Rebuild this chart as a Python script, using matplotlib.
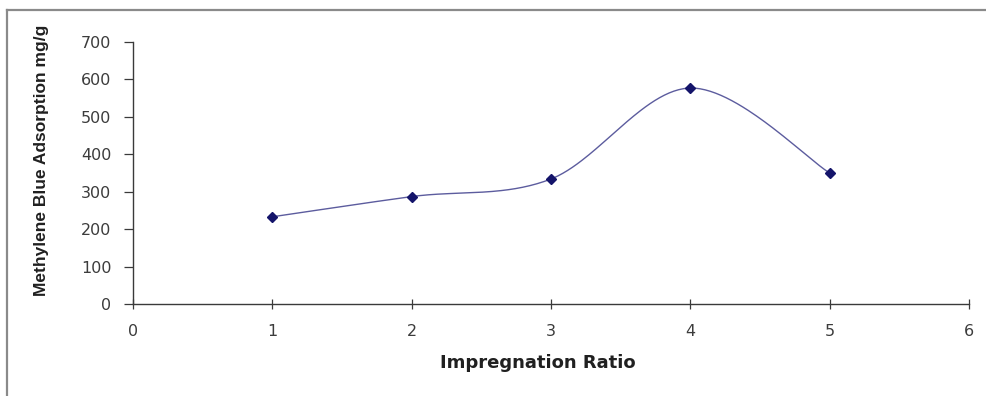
import numpy as np
import matplotlib
matplotlib.use("Agg")
import matplotlib.pyplot as plt
from matplotlib.lines import Line2D

# Data
ratios = [1, 2, 3, 4, 5]
adsorption = [233, 287, 334, 577, 350]
x_ticks = [0, 1, 2, 3, 4, 5, 6]
y_ticks = [0, 100, 200, 300, 400, 500, 600, 700]
x_label = "Impregnation Ratio"
y_label = "Methylene Blue Adsorption mg/g"


def smooth_curve(xs, ys, n=60):
    # Excel-style smoothed line (Catmull-Rom through the points)
    xs = np.asarray(xs, float)
    ys = np.asarray(ys, float)
    px = np.concatenate([[xs[0]], xs, [xs[-1]]])
    py = np.concatenate([[ys[0]], ys, [ys[-1]]])
    ox, oy = [], []
    for i in range(1, len(px) - 2):
        p0 = np.array([px[i - 1], py[i - 1]])
        p1 = np.array([px[i], py[i]])
        p2 = np.array([px[i + 1], py[i + 1]])
        p3 = np.array([px[i + 2], py[i + 2]])
        c1 = p1 + (p2 - p0) / 6.0
        c2 = p2 - (p3 - p1) / 6.0
        t = np.linspace(0, 1, n)[:, None]
        b = ((1 - t) ** 3) * p1 + 3 * ((1 - t) ** 2) * t * c1 + 3 * (1 - t) * t ** 2 * c2 + t ** 3 * p2
        ox.extend(b[:, 0])
        oy.extend(b[:, 1])
    return np.array(ox), np.array(oy)


fig = plt.figure(figsize=(9.87, 3.96), dpi=100)
ax = fig.add_axes([133 / 987, 1 - 304 / 396, (969 - 133) / 987, (304 - 42) / 396])

sx, sy = smooth_curve(ratios, adsorption)
ax.plot(sx, sy, color="#5c5c9e", lw=1.0, zorder=2)
ax.plot(ratios, adsorption, linestyle="none", marker="D", markersize=5,
        color="#14146a", zorder=3)

ax.set_xlim(0, 6)
ax.set_ylim(0, 700)
ax.set_xticks(x_ticks)
ax.set_yticks(y_ticks)

for s in ["top", "right"]:
    ax.spines[s].set_visible(False)
for s in ["left", "bottom"]:
    ax.spines[s].set_color("#3a3a3a")
    ax.spines[s].set_linewidth(1.0)

ax.tick_params(axis="y", direction="out", length=6.5, width=0.9, color="#3a3a3a",
               pad=9, labelsize=11.5, labelcolor="#3c3c3c")
ax.tick_params(axis="x", direction="inout", length=7, width=0.9, color="#3a3a3a",
               pad=11, labelsize=11.5, labelcolor="#3c3c3c")
for lab in ax.get_xticklabels() + ax.get_yticklabels():
    lab.set_family(["DejaVu Sans"])

ax.set_xlabel(x_label, fontsize=13, fontweight="bold",
              family=["DejaVu Sans"], color="#202020", labelpad=11)
ax.xaxis.label.set_x((538 - 133) / 836)
fig.text(42 / 987, 1 - 160 / 396, y_label, rotation=90, ha="center", va="center",
         fontsize=12.5, fontweight="bold", color="#202020",
         family=["Liberation Sans Narrow", "Liberation Sans", "DejaVu Sans"])

# Outer frame (left and top edges visible)
fig.add_artist(Line2D([7 / 987, 7 / 987], [0, 1 - 10 / 396], transform=fig.transFigure,
                      color="#8a8a8a", lw=1.6))
fig.add_artist(Line2D([7 / 987, 1], [1 - 10 / 396, 1 - 10 / 396], transform=fig.transFigure,
                      color="#8a8a8a", lw=1.6))

fig.savefig("out.png", dpi=100)
